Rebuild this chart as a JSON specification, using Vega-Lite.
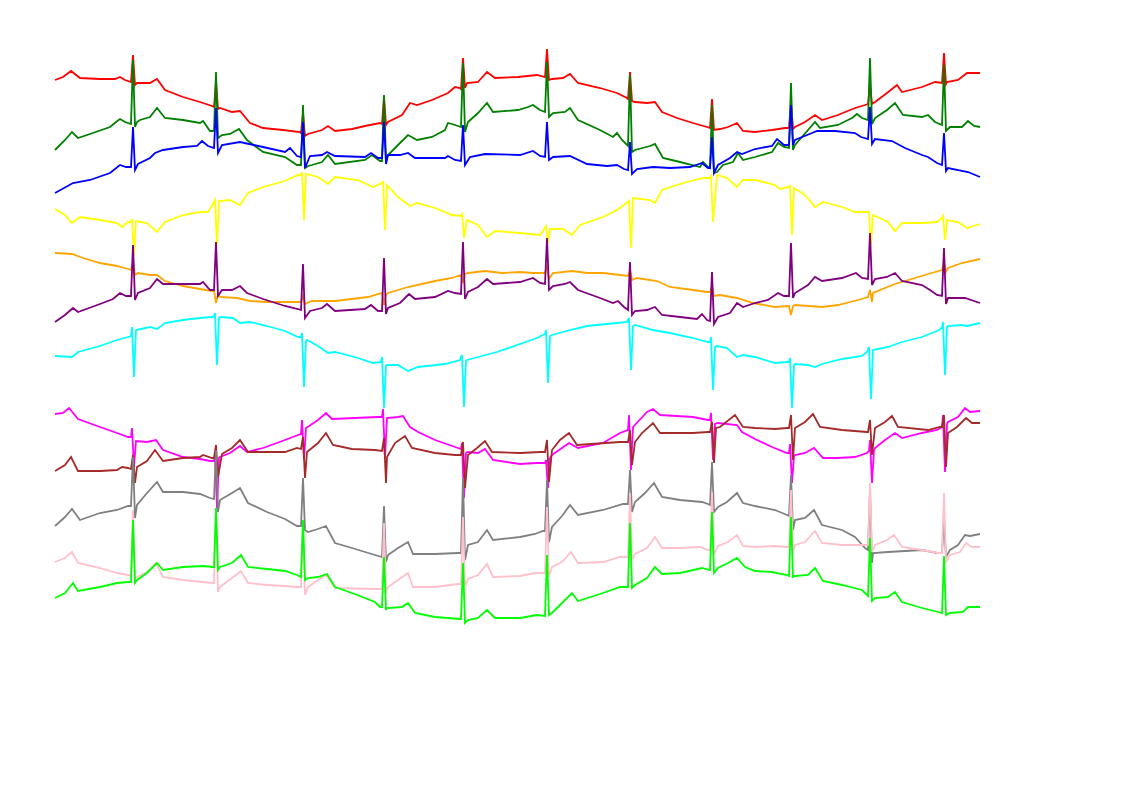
{
"$schema": "https://vega.github.io/schema/vega-lite/v6.json",
"width": 1122, "height": 793,
"autosize": {"type": "fit", "contains": "padding"},
"padding": 0,
"background": "white",
"config": {"view": {"stroke": null}},
"datasets": {
"I": [{"x":55,"y":80},{"x":63,"y":77},{"x":71,"y":71},{"x":80,"y":78},{"x":100,"y":79},{"x":115,"y":79},{"x":120,"y":77},{"x":125,"y":80},{"x":131,"y":82},{"x":133,"y":55},{"x":135,"y":85},{"x":137,"y":83},{"x":150,"y":83},{"x":157,"y":79},{"x":165,"y":90},{"x":183,"y":97},{"x":200,"y":102},{"x":212,"y":106},{"x":214,"y":107},{"x":216,"y":82},{"x":218,"y":109},{"x":220,"y":108},{"x":232,"y":112},{"x":240,"y":111},{"x":245,"y":117},{"x":250,"y":123},{"x":263,"y":128},{"x":283,"y":130},{"x":300,"y":132},{"x":301,"y":133},{"x":303,"y":113},{"x":305,"y":136},{"x":308,"y":134},{"x":322,"y":130},{"x":328,"y":126},{"x":335,"y":131},{"x":352,"y":129},{"x":365,"y":126},{"x":380,"y":123},{"x":382,"y":124},{"x":384,"y":97},{"x":386,"y":125},{"x":388,"y":122},{"x":402,"y":115},{"x":410,"y":103},{"x":417,"y":105},{"x":432,"y":100},{"x":448,"y":93},{"x":455,"y":87},{"x":460,"y":88},{"x":461,"y":89},{"x":463,"y":58},{"x":465,"y":88},{"x":467,"y":83},{"x":478,"y":82},{"x":487,"y":72},{"x":495,"y":78},{"x":518,"y":77},{"x":537,"y":75},{"x":545,"y":77},{"x":547,"y":49},{"x":549,"y":80},{"x":552,"y":79},{"x":563,"y":78},{"x":570,"y":74},{"x":578,"y":83},{"x":600,"y":88},{"x":617,"y":93},{"x":627,"y":98},{"x":628,"y":99},{"x":630,"y":72},{"x":632,"y":101},{"x":635,"y":102},{"x":647,"y":103},{"x":655,"y":102},{"x":662,"y":112},{"x":677,"y":118},{"x":693,"y":123},{"x":707,"y":127},{"x":710,"y":128},{"x":712,"y":99},{"x":714,"y":130},{"x":720,"y":129},{"x":728,"y":127},{"x":737,"y":123},{"x":743,"y":131},{"x":755,"y":132},{"x":772,"y":130},{"x":785,"y":128},{"x":789,"y":128},{"x":791,"y":101},{"x":793,"y":129},{"x":795,"y":127},{"x":805,"y":122},{"x":815,"y":115},{"x":822,"y":120},{"x":838,"y":115},{"x":855,"y":108},{"x":865,"y":105},{"x":868,"y":104},{"x":870,"y":85},{"x":872,"y":104},{"x":875,"y":102},{"x":887,"y":93},{"x":897,"y":85},{"x":902,"y":92},{"x":922,"y":87},{"x":935,"y":82},{"x":942,"y":83},{"x":944,"y":53},{"x":946,"y":84},{"x":947,"y":82},{"x":958,"y":80},{"x":967,"y":73},{"x":980,"y":73}],
"II": [{"x":55,"y":150},{"x":65,"y":140},{"x":72,"y":132},{"x":78,"y":138},{"x":90,"y":134},{"x":110,"y":127},{"x":116,"y":122},{"x":120,"y":119},{"x":125,"y":122},{"x":131,"y":124},{"x":133,"y":60},{"x":135,"y":127},{"x":137,"y":122},{"x":140,"y":120},{"x":150,"y":117},{"x":157,"y":108},{"x":165,"y":118},{"x":183,"y":120},{"x":200,"y":123},{"x":203,"y":121},{"x":210,"y":131},{"x":214,"y":131},{"x":216,"y":72},{"x":218,"y":138},{"x":222,"y":135},{"x":230,"y":134},{"x":239,"y":129},{"x":247,"y":140},{"x":263,"y":152},{"x":285,"y":157},{"x":297,"y":165},{"x":301,"y":165},{"x":303,"y":105},{"x":305,"y":168},{"x":308,"y":166},{"x":312,"y":165},{"x":322,"y":162},{"x":328,"y":155},{"x":335,"y":164},{"x":365,"y":160},{"x":372,"y":155},{"x":380,"y":161},{"x":382,"y":161},{"x":384,"y":95},{"x":386,"y":160},{"x":388,"y":155},{"x":400,"y":143},{"x":408,"y":135},{"x":417,"y":140},{"x":432,"y":137},{"x":445,"y":130},{"x":448,"y":123},{"x":452,"y":124},{"x":458,"y":126},{"x":461,"y":127},{"x":463,"y":63},{"x":465,"y":132},{"x":468,"y":122},{"x":478,"y":113},{"x":487,"y":103},{"x":493,"y":112},{"x":518,"y":110},{"x":528,"y":107},{"x":533,"y":105},{"x":540,"y":110},{"x":545,"y":112},{"x":547,"y":62},{"x":549,"y":117},{"x":553,"y":113},{"x":565,"y":112},{"x":570,"y":108},{"x":578,"y":120},{"x":600,"y":130},{"x":613,"y":137},{"x":617,"y":133},{"x":622,"y":140},{"x":628,"y":146},{"x":630,"y":75},{"x":632,"y":152},{"x":635,"y":150},{"x":650,"y":146},{"x":655,"y":144},{"x":663,"y":158},{"x":680,"y":162},{"x":700,"y":167},{"x":703,"y":162},{"x":707,"y":166},{"x":710,"y":168},{"x":712,"y":105},{"x":714,"y":173},{"x":717,"y":172},{"x":723,"y":165},{"x":733,"y":162},{"x":738,"y":153},{"x":743,"y":160},{"x":755,"y":157},{"x":772,"y":152},{"x":778,"y":143},{"x":784,"y":147},{"x":789,"y":148},{"x":791,"y":83},{"x":793,"y":150},{"x":795,"y":145},{"x":808,"y":130},{"x":815,"y":122},{"x":820,"y":128},{"x":838,"y":125},{"x":852,"y":118},{"x":857,"y":114},{"x":862,"y":118},{"x":868,"y":120},{"x":870,"y":58},{"x":872,"y":124},{"x":875,"y":118},{"x":887,"y":110},{"x":895,"y":103},{"x":903,"y":115},{"x":922,"y":117},{"x":928,"y":115},{"x":935,"y":122},{"x":942,"y":125},{"x":944,"y":65},{"x":946,"y":131},{"x":950,"y":127},{"x":962,"y":127},{"x":968,"y":121},{"x":974,"y":126},{"x":980,"y":127}],
"III": [{"x":55,"y":193},{"x":73,"y":183},{"x":90,"y":180},{"x":110,"y":173},{"x":120,"y":165},{"x":126,"y":167},{"x":131,"y":167},{"x":133,"y":127},{"x":135,"y":170},{"x":138,"y":164},{"x":150,"y":158},{"x":155,"y":153},{"x":163,"y":150},{"x":183,"y":147},{"x":197,"y":146},{"x":202,"y":141},{"x":208,"y":146},{"x":214,"y":148},{"x":216,"y":108},{"x":218,"y":153},{"x":222,"y":145},{"x":240,"y":142},{"x":263,"y":147},{"x":285,"y":152},{"x":290,"y":148},{"x":297,"y":156},{"x":301,"y":157},{"x":303,"y":122},{"x":305,"y":168},{"x":310,"y":156},{"x":322,"y":155},{"x":327,"y":152},{"x":335,"y":156},{"x":365,"y":157},{"x":371,"y":153},{"x":378,"y":158},{"x":382,"y":158},{"x":384,"y":122},{"x":386,"y":164},{"x":388,"y":155},{"x":400,"y":155},{"x":408,"y":153},{"x":415,"y":158},{"x":445,"y":158},{"x":448,"y":156},{"x":455,"y":160},{"x":461,"y":161},{"x":463,"y":125},{"x":465,"y":165},{"x":470,"y":157},{"x":485,"y":154},{"x":520,"y":155},{"x":533,"y":151},{"x":540,"y":156},{"x":545,"y":157},{"x":547,"y":122},{"x":549,"y":160},{"x":553,"y":157},{"x":570,"y":156},{"x":587,"y":164},{"x":607,"y":166},{"x":617,"y":165},{"x":624,"y":169},{"x":628,"y":170},{"x":630,"y":142},{"x":632,"y":174},{"x":637,"y":169},{"x":653,"y":167},{"x":670,"y":168},{"x":690,"y":167},{"x":702,"y":163},{"x":708,"y":168},{"x":710,"y":168},{"x":712,"y":137},{"x":714,"y":173},{"x":718,"y":165},{"x":730,"y":158},{"x":737,"y":152},{"x":742,"y":154},{"x":755,"y":149},{"x":772,"y":146},{"x":777,"y":139},{"x":784,"y":145},{"x":789,"y":145},{"x":791,"y":105},{"x":793,"y":145},{"x":795,"y":140},{"x":812,"y":133},{"x":817,"y":131},{"x":835,"y":131},{"x":855,"y":133},{"x":861,"y":137},{"x":868,"y":139},{"x":870,"y":107},{"x":872,"y":144},{"x":875,"y":139},{"x":892,"y":141},{"x":905,"y":148},{"x":922,"y":155},{"x":928,"y":157},{"x":937,"y":163},{"x":942,"y":165},{"x":944,"y":133},{"x":946,"y":171},{"x":948,"y":168},{"x":968,"y":172},{"x":980,"y":177}],
"aVR": [{"x":55,"y":209},{"x":65,"y":215},{"x":72,"y":223},{"x":80,"y":217},{"x":100,"y":220},{"x":117,"y":223},{"x":122,"y":227},{"x":128,"y":222},{"x":131,"y":222},{"x":132,"y":219},{"x":134,"y":255},{"x":136,"y":221},{"x":147,"y":223},{"x":157,"y":232},{"x":165,"y":222},{"x":183,"y":215},{"x":200,"y":212},{"x":208,"y":212},{"x":213,"y":204},{"x":215,"y":200},{"x":217,"y":245},{"x":219,"y":201},{"x":230,"y":200},{"x":240,"y":205},{"x":248,"y":193},{"x":263,"y":187},{"x":285,"y":181},{"x":298,"y":175},{"x":301,"y":175},{"x":302,"y":172},{"x":304,"y":220},{"x":306,"y":174},{"x":318,"y":177},{"x":328,"y":184},{"x":335,"y":177},{"x":358,"y":180},{"x":373,"y":187},{"x":382,"y":183},{"x":383,"y":181},{"x":385,"y":230},{"x":387,"y":185},{"x":398,"y":197},{"x":410,"y":206},{"x":417,"y":203},{"x":435,"y":208},{"x":452,"y":215},{"x":461,"y":216},{"x":462,"y":213},{"x":464,"y":238},{"x":467,"y":220},{"x":478,"y":225},{"x":487,"y":237},{"x":495,"y":231},{"x":520,"y":233},{"x":540,"y":235},{"x":545,"y":228},{"x":546,"y":226},{"x":548,"y":243},{"x":550,"y":229},{"x":563,"y":229},{"x":572,"y":235},{"x":580,"y":225},{"x":603,"y":217},{"x":617,"y":210},{"x":628,"y":202},{"x":629,"y":200},{"x":631,"y":248},{"x":633,"y":198},{"x":650,"y":200},{"x":655,"y":203},{"x":662,"y":190},{"x":683,"y":183},{"x":703,"y":178},{"x":710,"y":178},{"x":711,"y":176},{"x":713,"y":222},{"x":717,"y":175},{"x":727,"y":178},{"x":737,"y":187},{"x":743,"y":180},{"x":755,"y":180},{"x":775,"y":185},{"x":780,"y":189},{"x":789,"y":187},{"x":790,"y":185},{"x":792,"y":235},{"x":794,"y":188},{"x":805,"y":195},{"x":815,"y":207},{"x":823,"y":202},{"x":842,"y":207},{"x":855,"y":212},{"x":867,"y":212},{"x":869,"y":212},{"x":871,"y":245},{"x":873,"y":215},{"x":888,"y":222},{"x":895,"y":231},{"x":902,"y":223},{"x":922,"y":223},{"x":937,"y":222},{"x":942,"y":218},{"x":943,"y":216},{"x":945,"y":240},{"x":947,"y":220},{"x":958,"y":222},{"x":967,"y":228},{"x":980,"y":224}],
"aVL": [{"x":55,"y":253},{"x":72,"y":254},{"x":83,"y":258},{"x":100,"y":263},{"x":117,"y":266},{"x":128,"y":269},{"x":131,"y":270},{"x":133,"y":262},{"x":135,"y":275},{"x":138,"y":273},{"x":150,"y":275},{"x":157,"y":275},{"x":165,"y":281},{"x":183,"y":286},{"x":200,"y":289},{"x":212,"y":291},{"x":214,"y":291},{"x":216,"y":303},{"x":218,"y":294},{"x":220,"y":297},{"x":237,"y":298},{"x":250,"y":301},{"x":267,"y":302},{"x":285,"y":302},{"x":301,"y":302},{"x":303,"y":296},{"x":305,"y":304},{"x":312,"y":301},{"x":335,"y":301},{"x":368,"y":297},{"x":382,"y":293},{"x":384,"y":305},{"x":386,"y":295},{"x":388,"y":293},{"x":408,"y":287},{"x":435,"y":281},{"x":452,"y":278},{"x":461,"y":275},{"x":463,"y":283},{"x":465,"y":274},{"x":468,"y":273},{"x":485,"y":271},{"x":502,"y":273},{"x":520,"y":272},{"x":533,"y":273},{"x":545,"y":273},{"x":547,"y":266},{"x":549,"y":279},{"x":553,"y":273},{"x":572,"y":271},{"x":587,"y":273},{"x":603,"y":273},{"x":620,"y":275},{"x":628,"y":276},{"x":630,"y":270},{"x":632,"y":280},{"x":637,"y":278},{"x":657,"y":281},{"x":670,"y":287},{"x":693,"y":290},{"x":707,"y":292},{"x":710,"y":292},{"x":712,"y":286},{"x":714,"y":296},{"x":720,"y":295},{"x":737,"y":298},{"x":753,"y":303},{"x":775,"y":307},{"x":789,"y":306},{"x":791,"y":315},{"x":793,"y":306},{"x":795,"y":305},{"x":822,"y":307},{"x":838,"y":305},{"x":858,"y":300},{"x":868,"y":297},{"x":870,"y":290},{"x":872,"y":302},{"x":873,"y":293},{"x":895,"y":284},{"x":915,"y":278},{"x":935,"y":272},{"x":942,"y":270},{"x":944,"y":262},{"x":946,"y":272},{"x":948,"y":268},{"x":962,"y":263},{"x":980,"y":259}],
"aVF": [{"x":55,"y":322},{"x":65,"y":315},{"x":73,"y":308},{"x":78,"y":312},{"x":100,"y":304},{"x":113,"y":299},{"x":120,"y":293},{"x":126,"y":296},{"x":131,"y":296},{"x":133,"y":245},{"x":135,"y":300},{"x":138,"y":293},{"x":150,"y":288},{"x":157,"y":279},{"x":163,"y":284},{"x":200,"y":284},{"x":203,"y":282},{"x":210,"y":290},{"x":214,"y":290},{"x":216,"y":242},{"x":218,"y":296},{"x":222,"y":290},{"x":232,"y":290},{"x":240,"y":286},{"x":247,"y":293},{"x":263,"y":299},{"x":285,"y":306},{"x":298,"y":309},{"x":301,"y":310},{"x":303,"y":264},{"x":305,"y":318},{"x":310,"y":311},{"x":322,"y":308},{"x":327,"y":304},{"x":335,"y":311},{"x":365,"y":309},{"x":371,"y":305},{"x":378,"y":311},{"x":382,"y":311},{"x":384,"y":258},{"x":386,"y":314},{"x":388,"y":308},{"x":400,"y":303},{"x":409,"y":294},{"x":415,"y":299},{"x":435,"y":297},{"x":448,"y":291},{"x":455,"y":293},{"x":461,"y":294},{"x":463,"y":242},{"x":465,"y":299},{"x":468,"y":292},{"x":478,"y":287},{"x":487,"y":279},{"x":493,"y":284},{"x":520,"y":282},{"x":533,"y":278},{"x":540,"y":283},{"x":545,"y":284},{"x":547,"y":238},{"x":549,"y":290},{"x":553,"y":286},{"x":565,"y":284},{"x":570,"y":282},{"x":578,"y":290},{"x":600,"y":298},{"x":613,"y":303},{"x":618,"y":301},{"x":624,"y":307},{"x":628,"y":310},{"x":630,"y":262},{"x":632,"y":315},{"x":635,"y":311},{"x":647,"y":310},{"x":655,"y":307},{"x":662,"y":315},{"x":680,"y":317},{"x":697,"y":319},{"x":702,"y":314},{"x":707,"y":320},{"x":710,"y":321},{"x":712,"y":272},{"x":714,"y":324},{"x":718,"y":317},{"x":730,"y":313},{"x":737,"y":303},{"x":743,"y":307},{"x":755,"y":303},{"x":768,"y":300},{"x":778,"y":293},{"x":784,"y":296},{"x":789,"y":296},{"x":791,"y":243},{"x":793,"y":298},{"x":795,"y":293},{"x":808,"y":285},{"x":815,"y":277},{"x":822,"y":281},{"x":842,"y":278},{"x":856,"y":273},{"x":862,"y":278},{"x":868,"y":279},{"x":870,"y":233},{"x":872,"y":285},{"x":875,"y":279},{"x":887,"y":277},{"x":895,"y":273},{"x":902,"y":281},{"x":922,"y":285},{"x":930,"y":290},{"x":937,"y":295},{"x":942,"y":296},{"x":944,"y":248},{"x":946,"y":304},{"x":948,"y":298},{"x":965,"y":298},{"x":980,"y":303}],
"V1": [{"x":55,"y":356},{"x":72,"y":357},{"x":78,"y":352},{"x":100,"y":346},{"x":117,"y":340},{"x":128,"y":337},{"x":131,"y":336},{"x":132,"y":327},{"x":134,"y":377},{"x":136,"y":330},{"x":150,"y":327},{"x":157,"y":329},{"x":165,"y":323},{"x":183,"y":320},{"x":200,"y":318},{"x":212,"y":317},{"x":214,"y":316},{"x":215,"y":313},{"x":217,"y":365},{"x":219,"y":318},{"x":220,"y":317},{"x":233,"y":318},{"x":240,"y":323},{"x":250,"y":322},{"x":267,"y":326},{"x":285,"y":331},{"x":298,"y":337},{"x":301,"y":337},{"x":302,"y":333},{"x":304,"y":387},{"x":306,"y":341},{"x":307,"y":340},{"x":318,"y":346},{"x":328,"y":353},{"x":335,"y":352},{"x":358,"y":358},{"x":373,"y":363},{"x":381,"y":362},{"x":382,"y":357},{"x":384,"y":408},{"x":386,"y":366},{"x":387,"y":365},{"x":398,"y":365},{"x":408,"y":371},{"x":418,"y":367},{"x":445,"y":364},{"x":460,"y":360},{"x":461,"y":357},{"x":462,"y":355},{"x":464,"y":407},{"x":466,"y":361},{"x":467,"y":360},{"x":478,"y":357},{"x":497,"y":352},{"x":520,"y":344},{"x":537,"y":338},{"x":543,"y":335},{"x":545,"y":334},{"x":546,"y":330},{"x":548,"y":383},{"x":550,"y":336},{"x":552,"y":335},{"x":570,"y":330},{"x":587,"y":326},{"x":617,"y":323},{"x":627,"y":322},{"x":629,"y":318},{"x":631,"y":370},{"x":633,"y":326},{"x":635,"y":325},{"x":653,"y":330},{"x":670,"y":333},{"x":693,"y":338},{"x":708,"y":342},{"x":710,"y":342},{"x":711,"y":337},{"x":713,"y":390},{"x":715,"y":347},{"x":717,"y":346},{"x":727,"y":348},{"x":737,"y":357},{"x":743,"y":355},{"x":755,"y":357},{"x":775,"y":363},{"x":787,"y":362},{"x":789,"y":362},{"x":790,"y":358},{"x":792,"y":408},{"x":794,"y":365},{"x":795,"y":364},{"x":808,"y":365},{"x":815,"y":367},{"x":822,"y":364},{"x":842,"y":359},{"x":862,"y":356},{"x":867,"y":352},{"x":869,"y":347},{"x":871,"y":399},{"x":873,"y":350},{"x":888,"y":347},{"x":902,"y":342},{"x":922,"y":337},{"x":937,"y":331},{"x":942,"y":328},{"x":943,"y":322},{"x":945,"y":375},{"x":947,"y":327},{"x":948,"y":326},{"x":962,"y":325},{"x":967,"y":326},{"x":980,"y":323}],
"V2": [{"x":55,"y":414},{"x":63,"y":413},{"x":69,"y":408},{"x":78,"y":419},{"x":100,"y":427},{"x":117,"y":433},{"x":128,"y":437},{"x":131,"y":437},{"x":132,"y":428},{"x":134,"y":467},{"x":136,"y":441},{"x":147,"y":442},{"x":156,"y":440},{"x":163,"y":450},{"x":183,"y":457},{"x":200,"y":459},{"x":210,"y":461},{"x":214,"y":461},{"x":215,"y":455},{"x":217,"y":508},{"x":219,"y":458},{"x":220,"y":457},{"x":230,"y":453},{"x":240,"y":446},{"x":247,"y":452},{"x":263,"y":448},{"x":285,"y":440},{"x":298,"y":435},{"x":301,"y":434},{"x":302,"y":420},{"x":304,"y":460},{"x":306,"y":428},{"x":318,"y":420},{"x":326,"y":413},{"x":332,"y":419},{"x":378,"y":417},{"x":382,"y":417},{"x":383,"y":409},{"x":385,"y":458},{"x":387,"y":418},{"x":398,"y":417},{"x":403,"y":416},{"x":410,"y":427},{"x":418,"y":432},{"x":435,"y":440},{"x":458,"y":448},{"x":461,"y":449},{"x":462,"y":443},{"x":464,"y":498},{"x":466,"y":453},{"x":468,"y":452},{"x":478,"y":453},{"x":485,"y":449},{"x":493,"y":460},{"x":520,"y":464},{"x":537,"y":463},{"x":545,"y":463},{"x":546,"y":460},{"x":548,"y":488},{"x":550,"y":458},{"x":552,"y":455},{"x":569,"y":443},{"x":578,"y":448},{"x":603,"y":443},{"x":620,"y":433},{"x":628,"y":430},{"x":629,"y":415},{"x":631,"y":470},{"x":633,"y":427},{"x":647,"y":412},{"x":653,"y":409},{"x":660,"y":415},{"x":693,"y":417},{"x":708,"y":420},{"x":710,"y":420},{"x":711,"y":413},{"x":713,"y":460},{"x":715,"y":424},{"x":718,"y":423},{"x":737,"y":425},{"x":742,"y":432},{"x":755,"y":439},{"x":772,"y":447},{"x":787,"y":453},{"x":789,"y":453},{"x":790,"y":444},{"x":792,"y":483},{"x":794,"y":456},{"x":795,"y":455},{"x":805,"y":453},{"x":814,"y":448},{"x":823,"y":458},{"x":838,"y":458},{"x":855,"y":457},{"x":867,"y":453},{"x":869,"y":451},{"x":870,"y":440},{"x":872,"y":483},{"x":874,"y":450},{"x":875,"y":448},{"x":885,"y":440},{"x":895,"y":433},{"x":902,"y":438},{"x":922,"y":433},{"x":937,"y":430},{"x":942,"y":427},{"x":943,"y":415},{"x":945,"y":472},{"x":947,"y":424},{"x":948,"y":422},{"x":958,"y":417},{"x":965,"y":408},{"x":970,"y":412},{"x":980,"y":411}],
"V3": [{"x":55,"y":471},{"x":65,"y":465},{"x":71,"y":457},{"x":78,"y":471},{"x":100,"y":471},{"x":117,"y":470},{"x":122,"y":467},{"x":128,"y":468},{"x":131,"y":469},{"x":133,"y":455},{"x":135,"y":483},{"x":137,"y":467},{"x":147,"y":461},{"x":155,"y":450},{"x":163,"y":461},{"x":183,"y":458},{"x":200,"y":457},{"x":203,"y":455},{"x":212,"y":458},{"x":214,"y":458},{"x":216,"y":445},{"x":218,"y":477},{"x":222,"y":454},{"x":232,"y":448},{"x":240,"y":440},{"x":248,"y":452},{"x":267,"y":452},{"x":285,"y":452},{"x":297,"y":448},{"x":301,"y":449},{"x":303,"y":437},{"x":305,"y":478},{"x":307,"y":452},{"x":318,"y":443},{"x":326,"y":433},{"x":333,"y":445},{"x":352,"y":449},{"x":375,"y":450},{"x":382,"y":451},{"x":384,"y":438},{"x":386,"y":483},{"x":387,"y":457},{"x":395,"y":443},{"x":405,"y":436},{"x":412,"y":448},{"x":435,"y":453},{"x":455,"y":455},{"x":461,"y":455},{"x":463,"y":442},{"x":465,"y":488},{"x":468,"y":455},{"x":477,"y":448},{"x":485,"y":441},{"x":492,"y":452},{"x":520,"y":453},{"x":540,"y":452},{"x":545,"y":452},{"x":547,"y":440},{"x":549,"y":482},{"x":552,"y":450},{"x":560,"y":440},{"x":569,"y":433},{"x":577,"y":445},{"x":620,"y":442},{"x":628,"y":442},{"x":630,"y":430},{"x":632,"y":465},{"x":635,"y":442},{"x":642,"y":433},{"x":653,"y":423},{"x":660,"y":433},{"x":693,"y":433},{"x":708,"y":432},{"x":710,"y":432},{"x":712,"y":422},{"x":714,"y":463},{"x":716,"y":428},{"x":720,"y":427},{"x":735,"y":415},{"x":743,"y":427},{"x":755,"y":428},{"x":775,"y":429},{"x":787,"y":428},{"x":789,"y":428},{"x":791,"y":415},{"x":793,"y":460},{"x":795,"y":428},{"x":805,"y":422},{"x":813,"y":414},{"x":820,"y":427},{"x":842,"y":430},{"x":867,"y":432},{"x":868,"y":432},{"x":870,"y":420},{"x":872,"y":455},{"x":875,"y":428},{"x":885,"y":422},{"x":892,"y":416},{"x":898,"y":427},{"x":928,"y":430},{"x":940,"y":427},{"x":942,"y":427},{"x":944,"y":415},{"x":946,"y":467},{"x":948,"y":433},{"x":957,"y":427},{"x":966,"y":418},{"x":972,"y":423},{"x":980,"y":423}],
"V4": [{"x":55,"y":526},{"x":65,"y":517},{"x":72,"y":509},{"x":80,"y":520},{"x":100,"y":513},{"x":117,"y":510},{"x":128,"y":506},{"x":131,"y":506},{"x":133,"y":457},{"x":135,"y":518},{"x":137,"y":505},{"x":147,"y":493},{"x":157,"y":482},{"x":163,"y":492},{"x":183,"y":492},{"x":200,"y":494},{"x":210,"y":498},{"x":214,"y":499},{"x":216,"y":450},{"x":218,"y":512},{"x":220,"y":500},{"x":232,"y":493},{"x":240,"y":488},{"x":248,"y":503},{"x":267,"y":512},{"x":285,"y":519},{"x":297,"y":526},{"x":301,"y":526},{"x":303,"y":478},{"x":305,"y":530},{"x":308,"y":532},{"x":318,"y":529},{"x":326,"y":526},{"x":335,"y":543},{"x":352,"y":548},{"x":375,"y":555},{"x":382,"y":557},{"x":384,"y":506},{"x":386,"y":562},{"x":388,"y":555},{"x":398,"y":548},{"x":408,"y":542},{"x":413,"y":554},{"x":435,"y":554},{"x":458,"y":553},{"x":461,"y":553},{"x":463,"y":478},{"x":465,"y":560},{"x":468,"y":545},{"x":478,"y":542},{"x":487,"y":530},{"x":493,"y":540},{"x":520,"y":537},{"x":535,"y":534},{"x":543,"y":531},{"x":545,"y":531},{"x":547,"y":480},{"x":549,"y":542},{"x":552,"y":527},{"x":562,"y":516},{"x":570,"y":505},{"x":578,"y":515},{"x":603,"y":510},{"x":623,"y":504},{"x":628,"y":504},{"x":630,"y":470},{"x":632,"y":512},{"x":635,"y":502},{"x":645,"y":493},{"x":654,"y":483},{"x":662,"y":497},{"x":680,"y":500},{"x":702,"y":502},{"x":708,"y":504},{"x":710,"y":505},{"x":712,"y":462},{"x":714,"y":512},{"x":718,"y":507},{"x":727,"y":502},{"x":737,"y":493},{"x":743,"y":503},{"x":755,"y":506},{"x":775,"y":510},{"x":787,"y":515},{"x":789,"y":516},{"x":791,"y":475},{"x":793,"y":530},{"x":795,"y":520},{"x":805,"y":518},{"x":814,"y":510},{"x":822,"y":525},{"x":842,"y":530},{"x":855,"y":537},{"x":865,"y":548},{"x":868,"y":550},{"x":870,"y":490},{"x":872,"y":563},{"x":873,"y":553},{"x":888,"y":552},{"x":922,"y":550},{"x":937,"y":553},{"x":942,"y":553},{"x":944,"y":520},{"x":946,"y":557},{"x":950,"y":550},{"x":958,"y":545},{"x":965,"y":535},{"x":970,"y":536},{"x":980,"y":534}],
"V5": [{"x":55,"y":562},{"x":65,"y":558},{"x":72,"y":552},{"x":78,"y":563},{"x":100,"y":568},{"x":117,"y":573},{"x":128,"y":575},{"x":131,"y":575},{"x":133,"y":510},{"x":135,"y":578},{"x":137,"y":577},{"x":147,"y":572},{"x":156,"y":563},{"x":163,"y":577},{"x":183,"y":580},{"x":203,"y":582},{"x":213,"y":583},{"x":214,"y":583},{"x":216,"y":512},{"x":218,"y":592},{"x":220,"y":587},{"x":232,"y":578},{"x":241,"y":571},{"x":248,"y":583},{"x":267,"y":585},{"x":285,"y":586},{"x":297,"y":587},{"x":301,"y":587},{"x":303,"y":525},{"x":305,"y":595},{"x":308,"y":587},{"x":318,"y":580},{"x":326,"y":575},{"x":335,"y":588},{"x":375,"y":589},{"x":382,"y":589},{"x":384,"y":523},{"x":386,"y":593},{"x":388,"y":587},{"x":398,"y":580},{"x":408,"y":573},{"x":413,"y":587},{"x":435,"y":587},{"x":458,"y":584},{"x":461,"y":584},{"x":463,"y":517},{"x":465,"y":587},{"x":468,"y":579},{"x":478,"y":575},{"x":487,"y":564},{"x":493,"y":577},{"x":520,"y":576},{"x":535,"y":573},{"x":545,"y":573},{"x":547,"y":507},{"x":549,"y":577},{"x":552,"y":567},{"x":562,"y":562},{"x":571,"y":552},{"x":578,"y":563},{"x":603,"y":562},{"x":620,"y":557},{"x":628,"y":557},{"x":630,"y":493},{"x":632,"y":560},{"x":635,"y":554},{"x":647,"y":548},{"x":655,"y":537},{"x":662,"y":548},{"x":680,"y":548},{"x":700,"y":547},{"x":708,"y":550},{"x":710,"y":550},{"x":712,"y":492},{"x":714,"y":555},{"x":718,"y":546},{"x":728,"y":542},{"x":737,"y":535},{"x":743,"y":546},{"x":755,"y":547},{"x":775,"y":546},{"x":787,"y":547},{"x":789,"y":547},{"x":791,"y":490},{"x":793,"y":553},{"x":795,"y":545},{"x":805,"y":542},{"x":815,"y":531},{"x":822,"y":543},{"x":842,"y":545},{"x":865,"y":545},{"x":868,"y":545},{"x":870,"y":483},{"x":872,"y":552},{"x":875,"y":545},{"x":887,"y":540},{"x":894,"y":535},{"x":902,"y":547},{"x":922,"y":550},{"x":938,"y":553},{"x":942,"y":553},{"x":944,"y":493},{"x":946,"y":562},{"x":950,"y":555},{"x":960,"y":552},{"x":966,"y":543},{"x":972,"y":547},{"x":980,"y":547}],
"V6": [{"x":55,"y":598},{"x":65,"y":593},{"x":73,"y":583},{"x":78,"y":591},{"x":100,"y":587},{"x":117,"y":583},{"x":128,"y":582},{"x":131,"y":582},{"x":133,"y":520},{"x":135,"y":583},{"x":137,"y":580},{"x":147,"y":573},{"x":157,"y":563},{"x":163,"y":570},{"x":183,"y":567},{"x":203,"y":566},{"x":213,"y":567},{"x":214,"y":567},{"x":216,"y":508},{"x":218,"y":570},{"x":220,"y":567},{"x":232,"y":563},{"x":241,"y":555},{"x":248,"y":567},{"x":267,"y":569},{"x":285,"y":571},{"x":297,"y":575},{"x":301,"y":577},{"x":303,"y":520},{"x":305,"y":580},{"x":308,"y":578},{"x":318,"y":577},{"x":327,"y":574},{"x":335,"y":587},{"x":352,"y":593},{"x":375,"y":602},{"x":380,"y":607},{"x":382,"y":607},{"x":384,"y":557},{"x":386,"y":610},{"x":387,"y":608},{"x":402,"y":607},{"x":408,"y":603},{"x":415,"y":613},{"x":435,"y":617},{"x":460,"y":619},{"x":461,"y":619},{"x":463,"y":563},{"x":465,"y":623},{"x":468,"y":620},{"x":478,"y":618},{"x":487,"y":610},{"x":495,"y":618},{"x":520,"y":618},{"x":537,"y":615},{"x":545,"y":616},{"x":547,"y":555},{"x":549,"y":615},{"x":552,"y":613},{"x":562,"y":603},{"x":572,"y":593},{"x":578,"y":601},{"x":603,"y":593},{"x":620,"y":587},{"x":628,"y":587},{"x":630,"y":523},{"x":632,"y":588},{"x":635,"y":585},{"x":647,"y":578},{"x":655,"y":567},{"x":662,"y":574},{"x":680,"y":573},{"x":702,"y":568},{"x":710,"y":570},{"x":712,"y":512},{"x":714,"y":573},{"x":718,"y":568},{"x":728,"y":563},{"x":737,"y":558},{"x":745,"y":567},{"x":755,"y":571},{"x":772,"y":572},{"x":787,"y":575},{"x":789,"y":576},{"x":791,"y":517},{"x":793,"y":577},{"x":795,"y":576},{"x":808,"y":575},{"x":815,"y":568},{"x":823,"y":581},{"x":842,"y":585},{"x":862,"y":590},{"x":867,"y":595},{"x":868,"y":596},{"x":870,"y":538},{"x":872,"y":601},{"x":875,"y":598},{"x":888,"y":597},{"x":895,"y":592},{"x":902,"y":602},{"x":922,"y":608},{"x":938,"y":612},{"x":942,"y":613},{"x":944,"y":556},{"x":946,"y":615},{"x":950,"y":613},{"x":963,"y":612},{"x":968,"y":607},{"x":980,"y":607}]
},
"encoding": {
"x": {"field": "x", "type": "quantitative", "scale": {"domain": [0, 1122], "nice": false, "zero": false}, "axis": null},
"y": {"field": "y", "type": "quantitative", "scale": {"domain": [0, 793], "reverse": true, "nice": false, "zero": false}, "axis": null}
},
"layer": [
{"data": {"name": "I"}, "mark": {"type": "line", "color": "#ff0000", "strokeWidth": 1.8}},
{"data": {"name": "II"}, "mark": {"type": "line", "color": "#008000", "strokeWidth": 1.8}},
{"data": {"name": "III"}, "mark": {"type": "line", "color": "#0000ff", "strokeWidth": 1.8}},
{"data": {"name": "aVR"}, "mark": {"type": "line", "color": "#ffff00", "strokeWidth": 1.8}},
{"data": {"name": "aVL"}, "mark": {"type": "line", "color": "#ffa500", "strokeWidth": 1.8}},
{"data": {"name": "aVF"}, "mark": {"type": "line", "color": "#800080", "strokeWidth": 1.8}},
{"data": {"name": "V1"}, "mark": {"type": "line", "color": "#00ffff", "strokeWidth": 1.8}},
{"data": {"name": "V2"}, "mark": {"type": "line", "color": "#ff00ff", "strokeWidth": 1.8}},
{"data": {"name": "V3"}, "mark": {"type": "line", "color": "#a52a2a", "strokeWidth": 1.8}},
{"data": {"name": "V4"}, "mark": {"type": "line", "color": "#808080", "strokeWidth": 1.8}},
{"data": {"name": "V5"}, "mark": {"type": "line", "color": "#ffc0cb", "strokeWidth": 1.8}},
{"data": {"name": "V6"}, "mark": {"type": "line", "color": "#00ff00", "strokeWidth": 1.8}}
]
}
